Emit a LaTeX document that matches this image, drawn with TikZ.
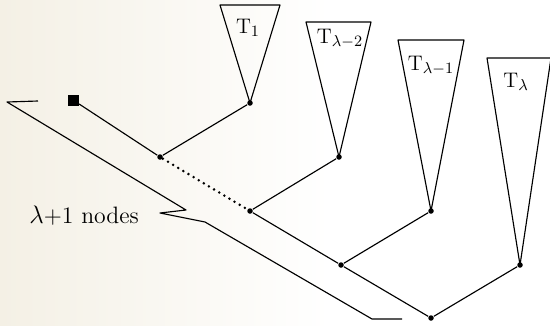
\documentclass[tikz,border=0pt]{standalone}
\definecolor{paper}{RGB}{244,240,229}
\begin{document}
\begin{tikzpicture}[
    x=0.02cm, y=-0.02cm,
    line width=0.65pt,
    treedot/.style={circle, fill=black, inner sep=0, minimum size=0.11cm},
    rootsq/.style={rectangle, fill=black, inner sep=0, minimum size=0.22cm},
    subtree/.style={draw=black, line join=round},
    lbl/.style={anchor=base, font=\fontsize{13}{15}\selectfont}
]

% ============================================
% FONDO (papel escaneado)
% ============================================
\fill[white] (0,0) rectangle (550,325);
\shade[left color=paper, right color=white] (0,0) rectangle (330,325);
\useasboundingbox (0,0) rectangle (550,325);

% ============================================
% NODOS DEL CAMINO
% ============================================
\node[rootsq]  (root) at (73,100)  {};
\node[treedot] (n1)   at (160,157) {};
\node[treedot] (n2)   at (250,211) {};
\node[treedot] (n3)   at (341,265) {};
\node[treedot] (n4)   at (431,318) {};

% Raices de los subarboles
\node[treedot] (t1) at (250,103) {};
\node[treedot] (t2) at (339,157) {};
\node[treedot] (t3) at (431,211) {};
\node[treedot] (t4) at (520,265) {};

% ============================================
% SUBARBOLES (triangulos)
% ============================================
\draw[subtree] (t1.center) -- (220,5)  -- (280,5)  -- cycle;
\draw[subtree] (t2.center) -- (306,22) -- (371,22) -- cycle;
\draw[subtree] (t3.center) -- (398,40) -- (464,40) -- cycle;
\draw[subtree] (t4.center) -- (487,58) -- (551,58) -- cycle;

\node[lbl] (l1) at (248,33) {$\mathrm{T}_1$};
\node[lbl] (l2) at (340,43) {$\mathrm{T}_{\lambda-2}$};
\node[lbl] (l3) at (431,70) {$\mathrm{T}_{\lambda-1}$};
\node[lbl] (l4) at (516,87) {$\mathrm{T}_{\lambda}$};

% ============================================
% ARISTAS
% ============================================
\draw (root) -- (n1);
\draw (n1) -- (t1);
\draw[line width=1.6pt, line cap=round, dash pattern=on 0pt off 3.4pt] (n1) -- (n2);
\draw (n2) -- (t2);
\draw (n2) -- (n3);
\draw (n3) -- (t3);
\draw (n3) -- (n4);
\draw (n4) -- (t4);

% ============================================
% LLAVE: lambda+1 nodos
% ============================================
\draw[line join=round] (38,101) -- (7,102) -- (186,210) -- (160,213)
    -- (205,222) -- (372,319) -- (402,319);
\node[anchor=base west, font=\fontsize{13.5}{16}\selectfont] (cnt) at (23,223)
    {$\lambda$+1 nodes};

\end{tikzpicture}
\end{document}
